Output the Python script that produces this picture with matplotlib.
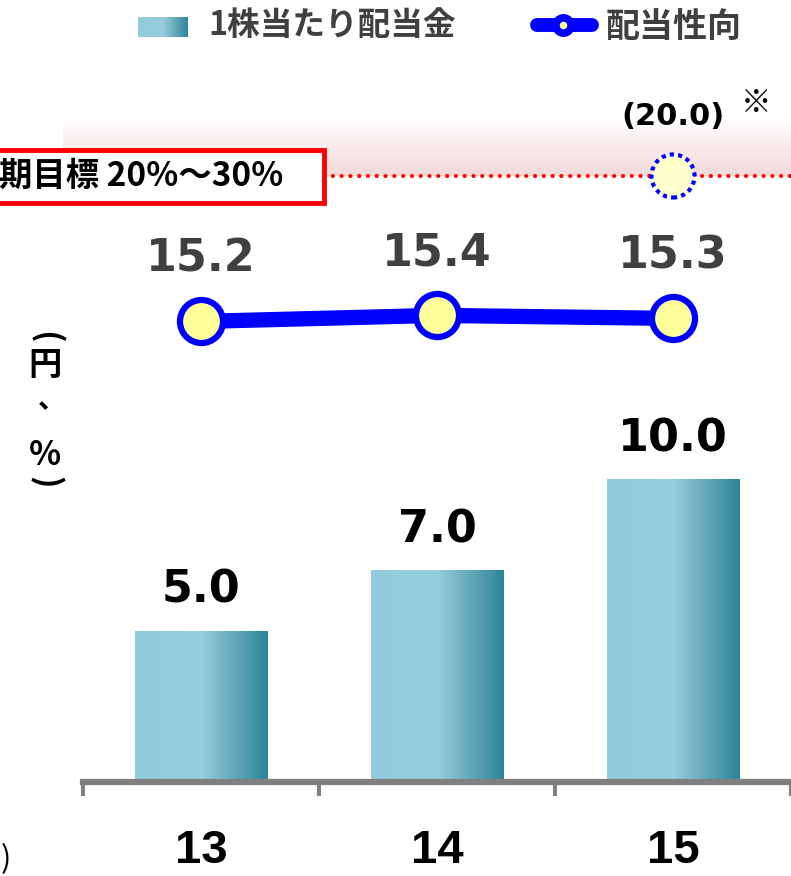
import numpy as np
import matplotlib.pyplot as plt
from matplotlib.colors import LinearSegmentedColormap
from matplotlib.patches import Rectangle
from matplotlib.lines import Line2D

plt.rcParams['font.family'] = ['DejaVu Sans']
JP = ['Noto Sans CJK JP', 'DejaVu Sans']

# data
years = ['13', '14', '15']
dividend = [5.0, 7.0, 10.0]
payout = [15.2, 15.4, 15.3]
target_payout = 20.0
target_label = '期目標 20%～30%'

W, H = 791, 876
fig = plt.figure(figsize=(W / 100, H / 100), dpi=100)
ax = fig.add_axes([83 / W, 1 - 782 / H, 1 - 83 / W, 722 / H])
x = np.arange(len(years))

bar_cmap = LinearSegmentedColormap.from_list(
    'bar', [(0, '#93CBDB'), (0.5, '#96CEDD'), (0.62, '#7EBBCB'), (1, '#2D8498')])
grad = np.linspace(0, 1, 256).reshape(1, -1)

bars = ax.bar(x, dividend, width=0.56, color='none', edgecolor='none', zorder=2)
for b in bars:
    im = ax.imshow(grad, cmap=bar_cmap, aspect='auto', zorder=2,
                   extent=[b.get_x(), b.get_x() + b.get_width(), 0, b.get_height()])
    im.set_clip_path(b)
    ax.annotate(f'{b.get_height():.1f}', (b.get_x() + b.get_width() / 2, b.get_height()),
                xytext=(0, 20), textcoords='offset points', ha='center', va='baseline',
                fontsize=32, fontweight='bold', color='black')

# payout ratio line
ax.plot(x, payout, color='#0000FF', lw=11, marker='o', ms=31, mfc='#FFFF99',
        mec='#0000FF', mew=4.5, zorder=5, solid_capstyle='butt')
for xi, p in zip(x, payout):
    ax.annotate(f'{p:.1f}', (xi, p), xytext=(0, 36), textcoords='offset points',
                ha='center', va='baseline', fontsize=32, fontweight='bold', color='#404040')

# target band
pink = LinearSegmentedColormap.from_list('pink', ['#F2D9D9', '#FFFFFF'])
ax.imshow(np.linspace(0, 1, 128).reshape(-1, 1)[::-1], cmap=pink, aspect='auto',
          extent=[-0.585, 2.5, target_payout, target_payout + 1.95], zorder=0,
          clip_on=False)
ax.set_xlim(-0.5, 2.5)
ax.set_ylim(0, 722 / 30.3)

ax.plot([0.52, 2.5], [target_payout, target_payout], color='red', lw=3,
        ls=(0, (0.01, 2.1)), dash_capstyle='round', clip_on=False, zorder=3)
ax.add_patch(Rectangle((-1.0, target_payout - 0.88), 1.52, 1.75, facecolor='white',
                       edgecolor='red', lw=3.5, clip_on=False, zorder=4))
ax.text(-0.855, target_payout - 0.02, target_label, ha='left', va='center', fontsize=24,
        fontweight='bold', family=JP, clip_on=False, zorder=5)
ax.scatter([2], [target_payout], s=31 ** 2, facecolor='#FFFFCC', edgecolor='#0000FF',
           linewidths=3, linestyle=(0, (1, 1)), zorder=5, clip_on=False)
ax.text(2.0, target_payout + 1.98, f'({target_payout:.1f})', ha='center', va='center',
        fontsize=22, fontweight='bold')
ax.text(2.35, target_payout + 2.4, '※', ha='center', va='center', fontsize=22,
        family=JP, fontweight='bold')

# axes styling
for s in ['left', 'top', 'right']:
    ax.spines[s].set_visible(False)
ax.spines['bottom'].set_color('#808080')
ax.spines['bottom'].set_linewidth(4.5)
ax.set_yticks([])
ax.set_xticks(x, years)
ax.set_xticks([-0.5, 0.5, 1.5, 2.5], minor=True)
ax.tick_params(axis='x', which='major', length=0, pad=34, labelsize=34)
ax.tick_params(axis='x', which='minor', length=10, width=3, color='#808080')
for t in ax.get_xticklabels():
    t.set_family(['Liberation Sans', 'DejaVu Sans'])
    t.set_fontweight('bold')

# y label (vertical)
yl_x = 45 / W
fig.text(yl_x, 1 - 337 / H, '(', rotation=-90, ha='center', va='center', fontsize=24,
         family=JP, fontweight='bold')
fig.text(yl_x, 1 - 366 / H, '円', ha='center', va='center', fontsize=24, family=JP, fontweight='bold')
fig.text(yl_x + 0.008, 1 - 400 / H, '、', ha='center', va='center', fontsize=20, family=JP, fontweight='bold')
fig.text(yl_x, 1 - 455 / H, '%', ha='center', va='center', fontsize=24, family=JP, fontweight='bold')
fig.text(yl_x, 1 - 482 / H, ')', rotation=-90, ha='center', va='center', fontsize=24,
         family=JP, fontweight='bold')
fig.text(0.5 / W, 1 - 860 / H, ')', ha='left', va='center', fontsize=22, family=JP)

# legend
lax = fig.add_axes([138 / W, 1 - 37 / H, 50 / W, 20 / H])
lax.imshow(grad, cmap=bar_cmap, aspect='auto')
lax.axis('off')
fig.text(208 / W, 1 - 26 / H, '1株当たり配当金', ha='left', va='center', fontsize=23.5,
         fontweight='bold', color='#404040', family=JP)
fig.add_artist(Line2D([537 / W, 592 / W], [1 - 25 / H, 1 - 25 / H], transform=fig.transFigure,
                      color='#0000FF', lw=10, solid_capstyle='round'))
fig.add_artist(Line2D([563 / W], [1 - 25 / H], transform=fig.transFigure, marker='o', ms=11,
                      mfc='#FFFF99', mec='#0000FF', mew=5.5, ls='none'))
fig.text(606 / W, 1 - 26 / H, '配当性向', ha='left', va='center', fontsize=24.5,
         fontweight='bold', color='#404040', family=JP)

fig.savefig('out.png', dpi=100)
